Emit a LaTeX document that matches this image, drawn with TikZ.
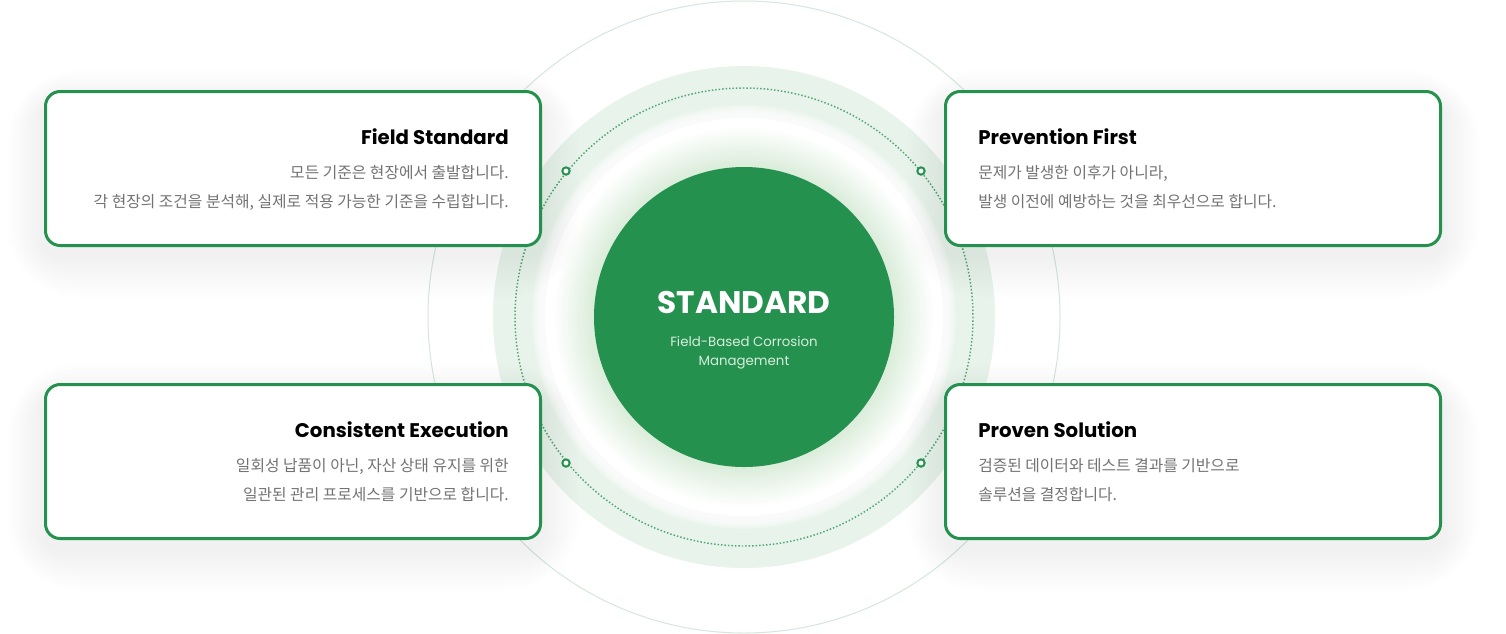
\documentclass[tikz,border=0pt]{standalone}
\usepackage{fontspec}
\setmainfont{Poppins}
\newfontfamily\krfont{Noto Sans CJK KR}
\usetikzlibrary{positioning}

\definecolor{stdgreen}{HTML}{25914E}
\definecolor{bandgreen}{HTML}{E8F3EB}
\definecolor{ringline}{HTML}{D3E8DA}
\definecolor{bodygray}{HTML}{737373}
\definecolor{subwhite}{HTML}{D6EEDD}

\pgfmathsetmacro{\radius}{150}

\begin{document}
\begin{tikzpicture}[x=0.75pt,y=-0.75pt,
    card/.style={draw=stdgreen, line width=2.25pt, fill=white, rounded corners=11pt,
        minimum width=371.25pt, minimum height=115.5pt, inner sep=0pt},
    cardtitle/.style={font=\fontsize{14.8}{18}\selectfont\bfseries, text=black, inner sep=0pt},
    cardtext/.style={font=\krfont\fontsize{11.85}{14}\selectfont, text=bodygray, inner sep=0pt},
    dotmark/.style={circle, draw=stdgreen, line width=1.5pt, fill=white, minimum size=5.5pt, inner sep=0pt}]
    \fill[white] (0,0) rectangle (1506,633);
    \useasboundingbox (0,0) rectangle (1506,633);
    \coordinate (c) at (744,317);

    % rings
    \draw[ringline, line width=0.75pt] (c) circle(316);
    \fill[bandgreen] (c) circle(251);
    \foreach \r in {212,211,...,200}
        \fill[white, opacity=0.18] (c) circle(\r);
    \fill[white] (c) circle(199);
    \foreach \r in {1,...,18}
        \fill[stdgreen, opacity=0.009] (c) circle(\radius+2.2*\r);
    \draw[stdgreen!80, line width=1.1pt, dash pattern=on 1.1pt off 1.5pt] (c) circle(229);

    % glow under the cards
    \foreach \cx/\cy in {293/168.5, 1193/168.5, 293/461.5, 1193/461.5}
        \foreach \g in {1,...,14}
            \fill[stdgreen, opacity=0.0055, rounded corners=11pt+\g*3.2pt]
                (\cx-250-\g*2.6, \cy-75-\g*2.4+10) rectangle (\cx+250+\g*2.6, \cy+77+\g*3+10);

    % cards
    \node[card] (field) at (293,168.5) {};
    \node[card] (prevent) at (1193,168.5) {};
    \node[card] (consist) at (293,461.5) {};
    \node[card] (proven) at (1193,461.5) {};

    \node[cardtitle, anchor=base east] (fieldT) at (509,144) {Field Standard};
    \node[cardtext, anchor=base east] (fieldA) at (509,178) {모든 기준은 현장에서 출발합니다.};
    \node[cardtext, anchor=base east] (fieldB) at (509,207) {각 현장의 조건을 분석해, 실제로 적용 가능한 기준을 수립합니다.};

    \node[cardtitle, anchor=base west] (preventT) at (978,144) {Prevention First};
    \node[cardtext, anchor=base west] (preventA) at (978,178) {문제가 발생한 이후가 아니라,};
    \node[cardtext, anchor=base west] (preventB) at (978,207) {발생 이전에 예방하는 것을 최우선으로 합니다.};

    \node[cardtitle, anchor=base east] (consistT) at (509,437) {Consistent Execution};
    \node[cardtext, anchor=base east] (consistA) at (509,471) {일회성 납품이 아닌, 자산 상태 유지를 위한};
    \node[cardtext, anchor=base east] (consistB) at (509,500) {일관된 관리 프로세스를 기반으로 합니다.};

    \node[cardtitle, anchor=base west] (provenT) at (978,437) {Proven Solution};
    \node[cardtext, anchor=base west] (provenA) at (978,471) {검증된 데이터와 테스트 결과를 기반으로};
    \node[cardtext, anchor=base west] (provenB) at (978,500) {솔루션을 결정합니다.};

    % markers on the dotted ring
    \node[dotmark] (m1) at (566,171) {};
    \node[dotmark] (m2) at (921,171) {};
    \node[dotmark] (m3) at (566,463) {};
    \node[dotmark] (m4) at (921,463) {};

    % core
    \node[circle, fill=stdgreen, minimum size=225pt, inner sep=0pt] (core) at (c) {};
    \node[anchor=base, text=white, inner sep=0pt, font=\fontsize{23.4}{28}\selectfont\bfseries] (coreT) at (744,313) {STANDARD};
    \node[anchor=base, text=subwhite, inner sep=0pt, font=\fontsize{10}{12}\selectfont] (coreA) at (744,346) {Field-Based Corrosion};
    \node[anchor=base, text=subwhite, inner sep=0pt, font=\fontsize{10}{12}\selectfont] (coreB) at (744,365) {Management};
\end{tikzpicture}
\end{document}
